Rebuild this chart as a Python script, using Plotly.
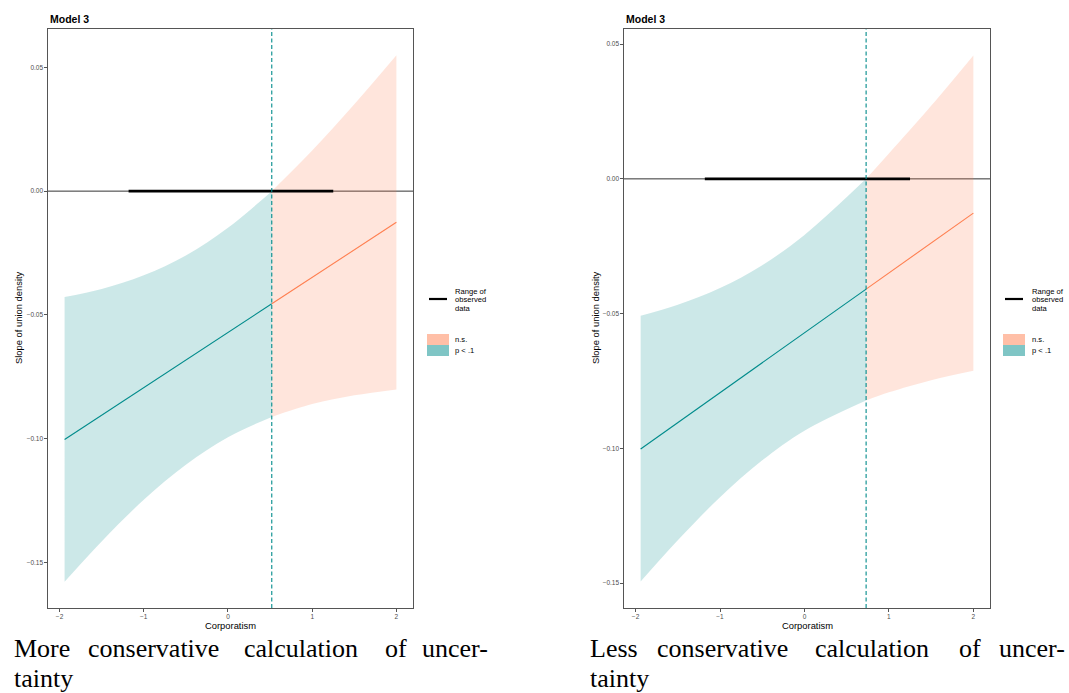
import plotly.graph_objects as go

W, H = 1069, 693

# Marginal effect of union density across corporatism, two uncertainty calculations
x_tick_vals = [-2, -1, 0, 1, 2]
y_tick_vals = [-0.15, -0.10, -0.05, 0.00, 0.05]
observed_range = [-1.18, 1.25]

# Panel A: more conservative uncertainty
a_x = [-1.94, -1.5, -1.0, -0.5, 0.0, 0.52, 1.0, 1.5, 2.0]
a_mean = [-0.1003, -0.0905, -0.0794, -0.0682, -0.0571, -0.0455, -0.0348, -0.0237, -0.0126]
a_upper = [-0.0428, -0.0395, -0.0340, -0.0260, -0.0148, 0.0, 0.0164, 0.0351, 0.0549]
a_lower = [-0.1578, -0.1415, -0.1247, -0.1105, -0.0994, -0.0912, -0.0860, -0.0825, -0.0801]
a_cut = 0.52

# Panel B: less conservative uncertainty
b_x = [-1.94, -1.5, -1.0, -0.5, 0.0, 0.73, 1.0, 1.5, 2.0]
b_mean = [-0.1002, -0.0904, -0.0793, -0.0682, -0.0571, -0.0409, -0.0349, -0.0238, -0.0127]
b_upper = [-0.0508, -0.0467, -0.0405, -0.0320, -0.0208, 0.0, 0.0094, 0.0271, 0.0458]
b_lower = [-0.1494, -0.1341, -0.1181, -0.1044, -0.0934, -0.0822, -0.0792, -0.0747, -0.0712]
b_cut = 0.73

SIG = "#008B8B"
NS = "#FF7F50"
SIG_FILL = "rgba(0,139,139,0.2)"
NS_FILL = "rgba(255,127,80,0.2)"
SIG_KEY = "rgba(0,139,139,0.5)"
NS_KEY = "rgba(255,127,80,0.5)"

fig = go.Figure()


def px(v):
    return v / W


def py(v):
    return 1 - v / H


def add_panel(xs, mean, upper, lower, cut, xa, ya):
    lo_idx = [i for i, v in enumerate(xs) if v <= cut]
    hi_idx = [i for i, v in enumerate(xs) if v >= cut]
    for idx, fill in ((lo_idx, SIG_FILL), (hi_idx, NS_FILL)):
        sx = [xs[i] for i in idx]
        fig.add_trace(go.Scatter(x=sx, y=[lower[i] for i in idx], mode="lines",
                                 line=dict(width=0, shape="spline"), xaxis=xa, yaxis=ya,
                                 showlegend=False, hoverinfo="skip"))
        fig.add_trace(go.Scatter(x=sx, y=[upper[i] for i in idx], mode="lines",
                                 line=dict(width=0, shape="spline"), fill="tonexty",
                                 fillcolor=fill, xaxis=xa, yaxis=ya,
                                 showlegend=False, hoverinfo="skip"))
    for idx, col in ((lo_idx, SIG), (hi_idx, NS)):
        fig.add_trace(go.Scatter(x=[xs[i] for i in idx], y=[mean[i] for i in idx],
                                 mode="lines", line=dict(color=col, width=1.1),
                                 xaxis=xa, yaxis=ya, showlegend=False))
    fig.add_trace(go.Scatter(x=observed_range, y=[0, 0], mode="lines",
                             line=dict(color="black", width=2.6),
                             xaxis=xa, yaxis=ya, showlegend=False))
    xref = "x" if xa == "x" else "x2"
    yref = "y" if ya == "y" else "y2"
    fig.add_shape(type="line", xref=xref + " domain", yref=yref, x0=0, x1=1, y0=0, y1=0,
                  line=dict(color="#333333", width=1), layer="below")
    fig.add_shape(type="line", xref=xref, yref=yref + " domain", x0=cut, x1=cut, y0=0, y1=1,
                  line=dict(color=SIG, width=1.1, dash="4px,2.5px"))


add_panel(a_x, a_mean, a_upper, a_lower, a_cut, "x", "y")
add_panel(b_x, b_mean, b_upper, b_lower, b_cut, "x2", "y2")

x_range = [-2.137, 2.197]
axis_common = dict(showgrid=False, zeroline=False, showline=True, mirror=True,
                   linecolor="#555555", linewidth=1.2, ticks="outside", ticklen=2.5,
                   tickcolor="#555555", tickwidth=1,
                   tickfont=dict(family="Liberation Sans, Arial", size=6.5, color="#4D4D4D"))

fig.update_layout(
    width=W, height=H, margin=dict(l=0, r=0, t=0, b=0),
    plot_bgcolor="white", paper_bgcolor="white", showlegend=False,
    xaxis=dict(domain=[px(48), px(413)], range=x_range, tickvals=x_tick_vals,
               anchor="y", **axis_common),
    yaxis=dict(domain=[py(608), py(29)], range=[-0.1684, 0.0655], tickvals=y_tick_vals,
               tickformat=".2f", anchor="x", **axis_common),
    xaxis2=dict(domain=[px(624), px(990)], range=x_range, tickvals=x_tick_vals,
                anchor="y2", **axis_common),
    yaxis2=dict(domain=[py(608), py(29)], range=[-0.1592, 0.0556], tickvals=y_tick_vals,
                tickformat=".2f", anchor="x2", **axis_common),
)

sans = "Liberation Sans, Arial, sans-serif"
serif = "Liberation Serif, Times New Roman, serif"
ann = []


def text(x, y, s, size, xanchor="left", angle=0, bold=False, family=sans, color="black"):
    ann.append(dict(x=px(x), y=py(y), xref="paper", yref="paper", text=f"<b>{s}</b>" if bold else s,
                    showarrow=False, xanchor=xanchor, yanchor="middle", textangle=angle,
                    font=dict(family=family, size=size, color=color)))


# Panel titles and axis titles
text(48, 19, "Model 3", 10.5, bold=True)
text(624, 19, "Model 3", 10.5, bold=True)
text(18, 318, "Slope of union density", 9.4, xanchor="center", angle=-90)
text(595, 318, "Slope of union density", 9.4, xanchor="center", angle=-90)
text(230, 625, "Corporatism", 9.4, xanchor="center")
text(807, 625, "Corporatism", 9.4, xanchor="center")

# Legend keys
shapes = []
for lx, tx in ((429, 453), (1005, 1030)):
    shapes.append(dict(type="line", xref="paper", yref="paper", x0=px(lx), x1=px(lx + 18),
                       y0=py(299), y1=py(299), line=dict(color="black", width=2.2)))
    shapes.append(dict(type="rect", xref="paper", yref="paper", x0=px(lx - 2), x1=px(lx + 20),
                       y0=py(345), y1=py(334), fillcolor=NS_KEY, line=dict(width=0)))
    shapes.append(dict(type="rect", xref="paper", yref="paper", x0=px(lx - 2), x1=px(lx + 20),
                       y0=py(356), y1=py(345), fillcolor=SIG_KEY, line=dict(width=0)))
    text(tx, 291, "Range of", 7.6)
    text(tx, 299.5, "observed", 7.6)
    text(tx, 308, "data", 7.6)
    text(tx, 339.5, "n.s.", 7.6)
    text(tx, 350.5, "p < .1", 7.6)

# Captions beneath each panel (justified first line, word by word)
cap_a = [(12, "More"), (86, "conservative"), (242, "calculation"), (383, "of"), (420, "uncer-")]
cap_b = [(588, "Less"), (655, "conservative"), (813, "calculation"), (957, "of"), (997, "uncer-")]
for cx, word in cap_a + cap_b:
    text(cx, 648, word, 26, family=serif)
text(12, 678, "tainty", 26, family=serif)
text(588, 678, "tainty", 26, family=serif)

fig.update_layout(annotations=ann)
for s in shapes:
    fig.add_shape(**s)

fig.write_html("out.html")
